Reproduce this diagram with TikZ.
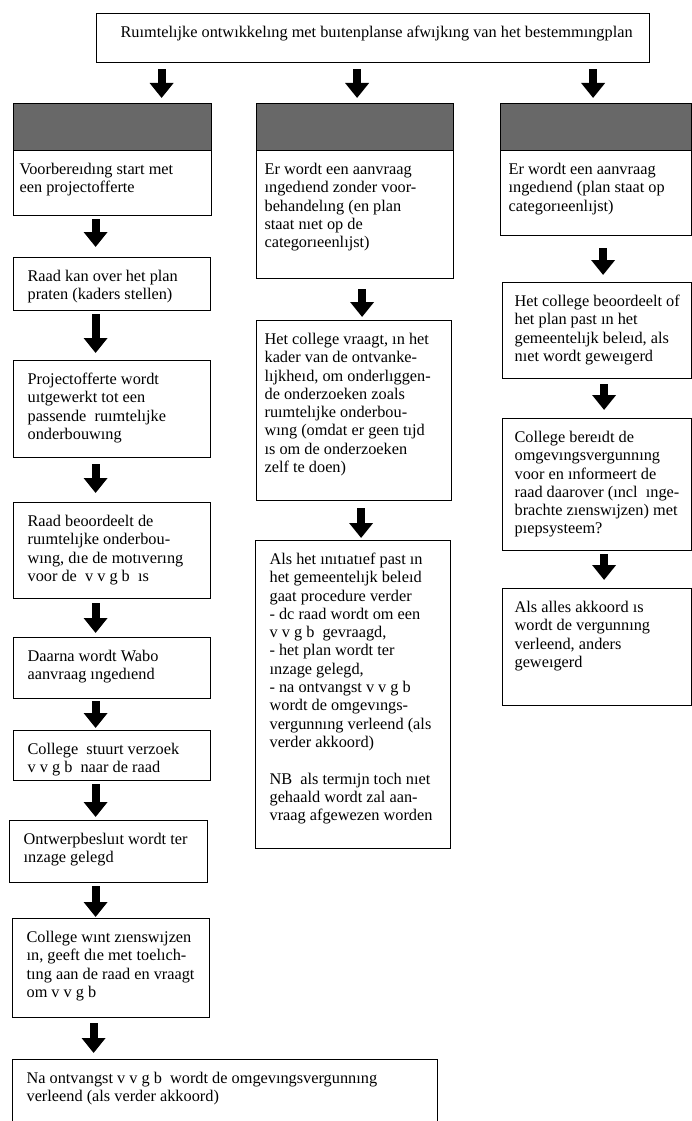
\documentclass[tikz,border=0pt]{standalone}
\usepackage{fontspec}
\setmainfont{Liberation Serif}
\usetikzlibrary{arrows.meta}

% #1 width, #2 height, #3 left inset, #4 text
\newcommand\bxt[4]{\parbox[c][#2pt][t]{#1pt}{\fontsize{16.3}{18.3}\selectfont\vspace*{11pt}\raggedright\leftskip=#3pt\strut #4\par}}
\newcommand\dar[5]{\draw[bigarrow, shorten <=#4pt, shorten >=#5pt] ([xshift=#3pt]#1.south) -- ([xshift=#3pt]#1.south |- #2.north);}

\tikzset{
  tbox/.style={draw, line width=1.2pt, inner sep=0pt, anchor=north west},
  headbox/.style={draw, line width=1.2pt, inner sep=0pt, anchor=north west,
    fill={rgb,255:red,104;green,104;blue,104}},
  bigarrow/.style={line width=8pt, -{Triangle[width=23pt,length=15pt]}},
}

\begin{document}
\begin{tikzpicture}[x=1pt,y=-1pt]
\useasboundingbox (0,0) rectangle (691,1121);

% title
\node[tbox] (title) at (96,13) {\bxt{553}{49}{24}{Ruımtelıjke ontwıkkelıng met buıtenplanse afwıjkıng van het bestemmıngplan}};

% headers
\node[headbox, minimum width=198pt, minimum height=47pt] (h1) at (13,103) {};
\node[headbox, minimum width=197pt, minimum height=47pt] (h2) at (256,103) {};
\node[headbox, minimum width=191pt, minimum height=47pt] (h3) at (500,103) {};

% left column
\node[tbox] (l1) at (13,150) {\bxt{198}{65}{6}{Voorbereıdıng start met\\ een projectofferte}};
\node[tbox] (l2) at (13,257) {\bxt{197}{53}{14}{Raad kan over het plan\\ praten (kaders stellen)}};
\node[tbox] (l3) at (13,360) {\bxt{197}{97}{14}{Projectofferte wordt\\ uıtgewerkt tot een\\ passende\ \ ruımtelıjke\\ onderbouwıng}};
\node[tbox] (l4) at (13,502) {\bxt{197}{96}{14}{Raad beoordeelt de\\ ruımtelıjke onderbou-\\ wıng, dıe de motıverıng\\ voor de\ \ v v g b\ \ ıs}};
\node[tbox] (l5) at (13,637) {\bxt{197}{61}{14}{Daarna wordt Wabo\\ aanvraag ıngedıend}};
\node[tbox] (l6) at (13,730) {\bxt{197}{50}{14}{College\ \ stuurt verzoek\\ v v g b\ \ naar de raad}};
\node[tbox] (l7) at (9,820) {\bxt{198}{62}{14}{Ontwerpbesluıt wordt ter\\ ınzage gelegd}};
\node[tbox] (l8) at (12,918) {\bxt{197}{99}{14}{College wınt zıenswıjzen\\ ın, geeft dıe met toelıch-\\ tıng aan de raad en vraagt\\ om v v g b}};
\node[tbox] (l9) at (12,1059) {\bxt{425}{66}{14}{Na ontvangst v v g b\ \ wordt de omgevıngsvergunnıng\\ verleend (als verder akkoord)}};

% middle column
\node[tbox] (m1) at (256,150) {\bxt{197}{128}{8}{Er wordt een aanvraag\\ ıngedıend zonder voor-\\ behandelıng (en plan\\ staat nıet op de\\ categorıeenlıjst)}};
\node[tbox] (m2) at (256,320) {\bxt{195}{180}{8}{Het college vraagt, ın het\\ kader van de ontvanke-\\ lıjkheıd, om onderlıggen-\\ de onderzoeken zoals\\ ruımtelıjke onderbou-\\ wıng (omdat er geen tıjd\\ ıs om de onderzoeken\\ zelf te doen)}};
\node[tbox] (m3) at (255,540) {\bxt{195}{308}{14}{Als het ınıtıatıef past ın\\ het gemeentelıjk beleıd\\ gaat procedure verder\\ - dc raad wordt om een\\ v v g b\ \ gevraagd,\\ - het plan wordt ter\\ ınzage gelegd,\\ - na ontvangst v v g b\\ wordt de omgevıngs-\\ vergunnıng verleend (als\\ verder akkoord)\\[18.3pt] NB\ \ als termıjn toch nıet\\ gehaald wordt zal aan-\\ vraag afgewezen worden}};

% right column
\node[tbox] (r1) at (500,150) {\bxt{191}{85}{8}{Er wordt een aanvraag\\ ıngedıend (plan staat op\\ categorıeenlıjst)}};
\node[tbox] (r2) at (502,282) {\bxt{189}{96}{12}{Het college beoordeelt of\\ het plan past ın het\\ gemeentelıjk beleıd, als\\ nıet wordt geweıgerd}};
\node[tbox] (r3) at (502,418) {\bxt{189}{132}{12}{College bereıdt de\\ omgevıngsvergunnıng\\ voor en ınformeert de\\ raad daarover (ıncl\ \ ınge-\\ brachte zıenswıjzen) met\\ pıepsysteem?}};
\node[tbox] (r4) at (502,588) {\bxt{189}{117}{12}{Als alles akkoord ıs\\ wordt de vergunnıng\\ verleend, anders\\ geweıgerd}};

% arrows from title
\draw[bigarrow, shorten <=6pt, shorten >=5pt] ([xshift=49pt]h1.north |- title.south) -- ([xshift=49pt]h1.north);
\draw[bigarrow, shorten <=6pt, shorten >=5pt] ([xshift=2pt]h2.north |- title.south) -- ([xshift=2pt]h2.north);
\draw[bigarrow, shorten <=6pt, shorten >=5pt] ([xshift=-3pt]h3.north |- title.south) -- ([xshift=-3pt]h3.north);

% left arrows
\dar{l1}{l2}{-17}{3}{10}
\dar{l2}{l3}{-16.5}{3}{7}
\dar{l3}{l4}{-16.5}{6}{9}
\dar{l4}{l5}{-16.5}{4}{4}
\dar{l5}{l6}{-16.5}{2}{2}
\dar{l6}{l7}{-16.5}{3}{3}
\dar{l7}{l8}{-13}{3}{1}
\dar{l8}{l9}{-17.5}{5}{6}

% middle arrows
\dar{m1}{m2}{7}{10}{3}
\dar{m2}{m3}{7}{7}{2}

% right arrows
\dar{r1}{r2}{7}{12}{7}
\dar{r2}{r3}{7}{5}{8}
\dar{r3}{r4}{7}{3}{8}
\end{tikzpicture}
\end{document}
